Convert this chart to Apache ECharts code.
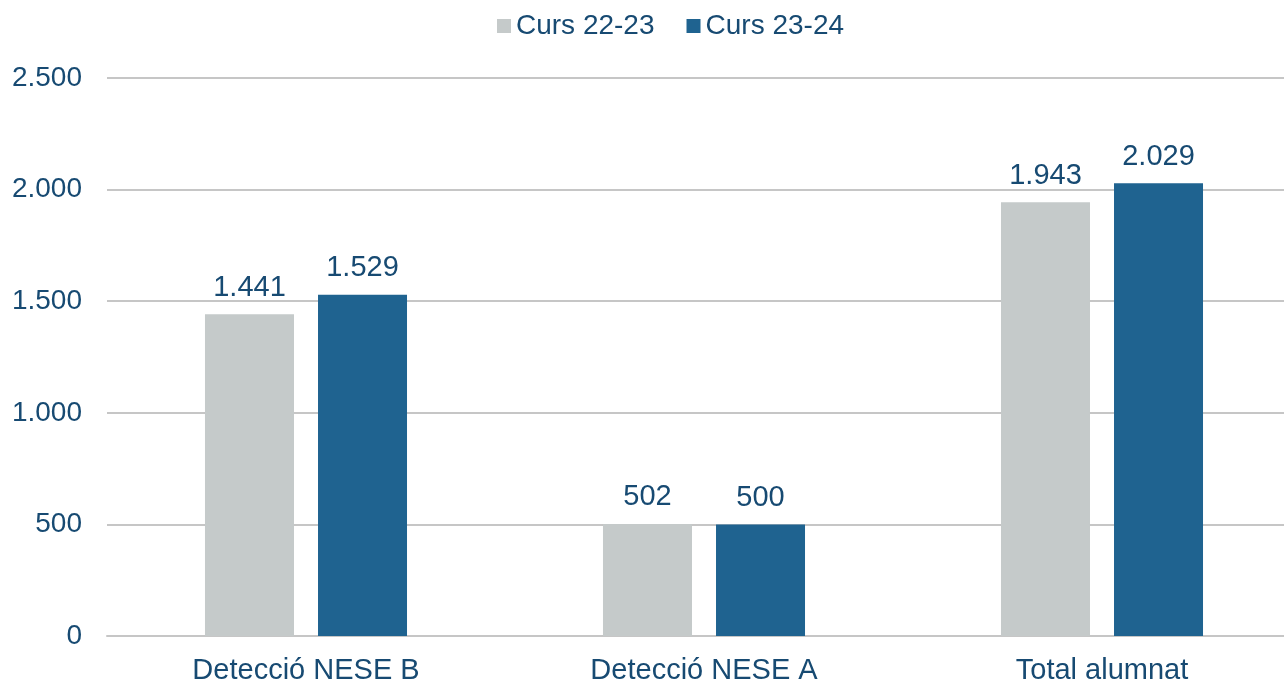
<!DOCTYPE html>
<html><head><meta charset="utf-8">
<script src="https://cdn.jsdelivr.net/npm/echarts@6/dist/echarts.min.js"></script>
<style>html,body{margin:0;padding:0;background:#fff}#c{width:1284px;height:683px}</style>
</head><body><div id="c"></div>
<script>
const categories = ['Detecció NESE B', 'Detecció NESE A', 'Total alumnat'];
const seriesNames = ['Curs 22-23', 'Curs 23-24'];
const curs2223 = [1441, 502, 1943];
const curs2324 = [1529, 500, 2029];

const textColor = '#174A72';
const fmt = v => String(v).replace(/\B(?=(\d{3})+(?!\d))/g, '.');
const font = 'Liberation Sans, Arial, sans-serif';
const fs = 29;

const chart = echarts.init(document.getElementById('c'));
chart.setOption({
  animation: false,
  textStyle: { fontFamily: font },
  legend: {
    top: 7, left: 492, itemWidth: 14, itemHeight: 14, itemGap: 32,
    icon: 'rect',
    textStyle: { color: textColor, fontSize: 28, fontFamily: font },
    data: seriesNames
  },
  grid: { left: 107, width: 1194, top: 78, bottom: 47, containLabel: false, outerBoundsMode: 'none' },
  xAxis: {
    type: 'category', data: categories,
    axisLine: { lineStyle: { color: '#C6C6C6', width: 2 } },
    axisTick: { show: false },
    axisLabel: { color: textColor, fontSize: fs, fontFamily: font, margin: 20 }
  },
  yAxis: {
    type: 'value', min: 0, max: 2500, interval: 500,
    axisLabel: { color: textColor, fontSize: 28, fontFamily: font, margin: 25, formatter: fmt },
    splitLine: { lineStyle: { color: '#C6C6C6', width: 2 } },
    axisLine: { show: false }, axisTick: { show: false }
  },
  series: [
    { name: seriesNames[0], type: 'bar', data: curs2223, barWidth: 89, barGap: '27%',
      itemStyle: { color: '#C5CACA' },
      label: { show: true, position: 'top', distance: 12, color: textColor, fontSize: fs, fontFamily: font, formatter: p => fmt(p.value) } },
    { name: seriesNames[1], type: 'bar', data: curs2324, barWidth: 89,
      itemStyle: { color: '#1F6390' },
      label: { show: true, position: 'top', distance: 12, color: textColor, fontSize: fs, fontFamily: font, formatter: p => fmt(p.value) } }
  ]
});
</script></body></html>
